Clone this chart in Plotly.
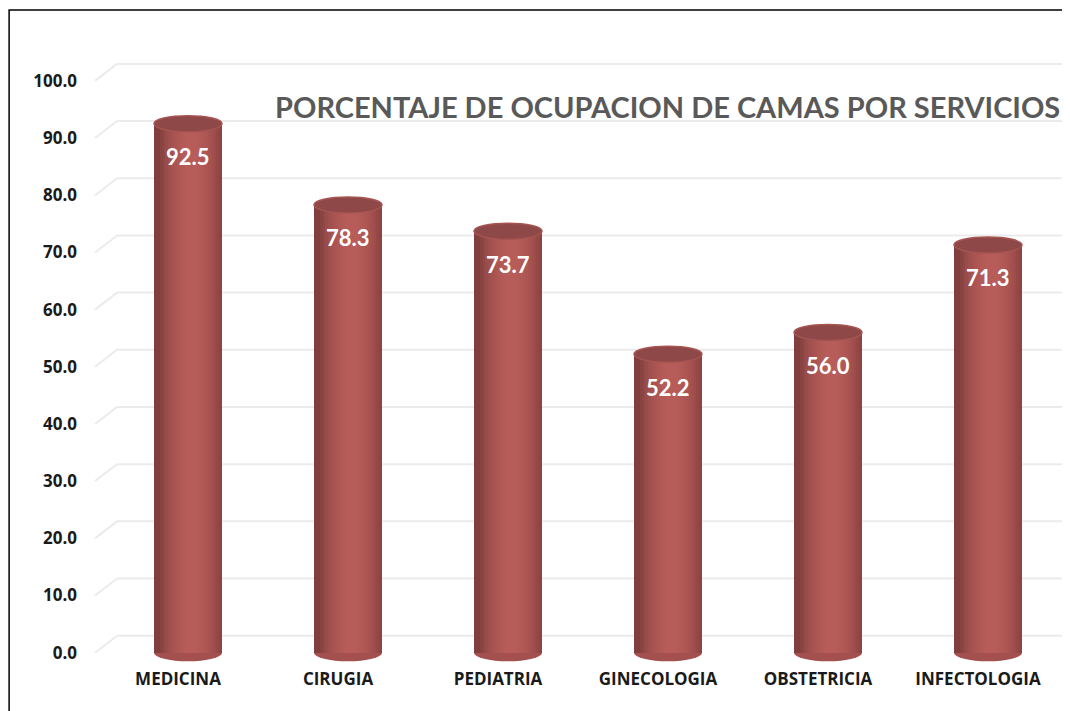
import numpy as np
import plotly.graph_objects as go

categories = ["MEDICINA", "CIRUGIA", "PEDIATRIA", "GINECOLOGIA", "OBSTETRICIA", "INFECTOLOGIA"]
values = [92.5, 78.3, 73.7, 52.2, 56.0, 71.3]
tick_values = [0, 10, 20, 30, 40, 50, 60, 70, 80, 90, 100]
tick_labels = ["0.0", "10.0", "20.0", "30.0", "40.0", "50.0", "60.0", "70.0", "80.0", "90.0", "100.0"]
title_text = "PORCENTAJE DE OCUPACION DE CAMAS POR SERVICIOS"

BAR_W = 0.425
N_STRIPS = 24
DEPTH = 2.97  # back-wall offset in y units

dark = np.array([0x6e, 0x34, 0x33])
light = np.array([0xb8, 0x5d, 0x5a])

fig = go.Figure()
x_idx = list(range(len(categories)))

for k in range(N_STRIPS):
    t = (k + 0.5) / N_STRIPS
    s = np.cos((t - 0.55) * np.pi * 1.05)
    s = max(s, 0) ** 0.8
    c = dark + (light - dark) * (0.25 + 0.75 * s)
    col = "rgb(%d,%d,%d)" % tuple(int(v) for v in c)
    sw = BAR_W / N_STRIPS
    fig.add_trace(go.Bar(
        x=x_idx, y=values, base=0,
        width=[sw * 1.08] * len(values),
        offset=[-BAR_W / 2 + k * sw] * len(values),
        marker=dict(color=col, line=dict(width=0)),
        hoverinfo="skip", showlegend=False,
    ))

shapes = []
for tv in tick_values:
    shapes.append(dict(type="line", xref="paper", yref="y",
                       x0=0.0094, x1=1.01, y0=tv + DEPTH, y1=tv + DEPTH,
                       line=dict(color="#ebebeb", width=2), layer="below"))
    shapes.append(dict(type="line", xref="paper", yref="y",
                       x0=-0.0135, x1=0.0094, y0=tv, y1=tv + DEPTH,
                       line=dict(color="#ebebeb", width=2), layer="below"))

for i, v in enumerate(values):
    shapes.append(dict(type="circle", xref="x", yref="y",
                       x0=i - BAR_W / 2, x1=i + BAR_W / 2, y0=-1.5, y1=1.5,
                       fillcolor="#a3504e", line=dict(width=0), layer="below"))
    shapes.append(dict(type="circle", xref="x", yref="y",
                       x0=i - BAR_W / 2, x1=i + BAR_W / 2, y0=v - 1.4, y1=v + 1.4,
                       fillcolor="#8d4847", line=dict(color="#a65452", width=1.5), layer="above"))

annotations = []
for i, v in enumerate(values):
    annotations.append(dict(x=i, y=v, xref="x", yref="y", text="<b>%.1f</b>" % v,
                            showarrow=False, yshift=-33,
                            font=dict(family="Lato, sans-serif", size=22, color="white")))

annotations.append(dict(x=1.0, y=95.5, xref="paper", yref="y", xanchor="right", yanchor="middle",
                        xshift=-6, text="<b>" + title_text + "</b>", showarrow=False,
                        font=dict(family="Lato, sans-serif", size=29, color="#595959")))

fig.update_layout(
    width=1062, height=703,
    margin=dict(l=100, r=2, t=50, b=44),
    paper_bgcolor="white", plot_bgcolor="white",
    barmode="overlay", bargap=0,
    shapes=shapes + [dict(type="rect", xref="paper", yref="paper",
                          x0=-0.103, x1=1.05, y0=-0.2, y1=1.0788,
                          line=dict(color="black", width=1.5), fillcolor="rgba(0,0,0,0)")],
    annotations=annotations,
    xaxis=dict(range=[-0.5, 5.5], tickmode="array", tickvals=x_idx,
               ticktext=["<b>%s</b>" % c for c in categories],
               showgrid=False, zeroline=False, showline=False, ticks="",
               ticklabelshift=-10,
               tickfont=dict(family="Open Sans, sans-serif", size=17, color="#1a1a1a")),
    yaxis=dict(range=[-2.5, 104], tickmode="array", tickvals=tick_values,
               ticktext=["<b>%s</b>" % t for t in tick_labels],
               showgrid=False, zeroline=False, showline=False, ticks="",
               ticklabelstandoff=30,
               tickfont=dict(family="Open Sans, sans-serif", size=17, color="#1a1a1a")),
)

fig.write_html("out.html")
